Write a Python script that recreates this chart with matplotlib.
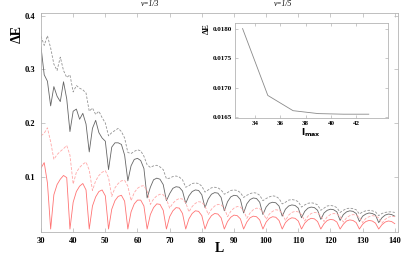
import matplotlib
matplotlib.use("Agg")
import matplotlib.pyplot as plt
import numpy as np

L = list(range(30, 141))

# black solid
dE_black_solid = [
    0.342, 0.290, 0.278, 0.232, 0.268, 0.250, 0.240, 0.277, 0.245, 0.184,
    0.222, 0.226, 0.207, 0.218, 0.198, 0.146, 0.190, 0.205, 0.182, 0.172,
    0.166, 0.113, 0.155, 0.163, 0.163, 0.160, 0.140, 0.092, 0.120, 0.132,
    0.134, 0.130, 0.115, 0.060, 0.080, 0.094, 0.097, 0.095, 0.085, 0.055,
    0.068, 0.078, 0.081, 0.080, 0.073, 0.050, 0.064, 0.072, 0.075, 0.074,
    0.066, 0.042, 0.058, 0.067, 0.070, 0.069, 0.061, 0.036, 0.053, 0.062,
    0.065, 0.064, 0.057, 0.032, 0.049, 0.057, 0.060, 0.059, 0.052, 0.029,
    0.043, 0.050, 0.052, 0.051, 0.045, 0.026, 0.039, 0.045, 0.047, 0.046,
    0.041, 0.023, 0.035, 0.041, 0.043, 0.042, 0.037, 0.020, 0.032, 0.037,
    0.039, 0.038, 0.034, 0.018, 0.029, 0.034, 0.036, 0.035, 0.031, 0.016,
    0.026, 0.030, 0.032, 0.031, 0.028, 0.014, 0.023, 0.028, 0.030, 0.029,
    0.026]

# black dashed
dE_black_dashed = [
    0.362, 0.345, 0.363, 0.340, 0.310, 0.298, 0.323, 0.298, 0.285, 0.290,
    0.258, 0.270, 0.265, 0.262, 0.256, 0.222, 0.228, 0.216, 0.222, 0.210,
    0.200, 0.176, 0.182, 0.186, 0.190, 0.184, 0.172, 0.145, 0.143, 0.147,
    0.150, 0.148, 0.138, 0.122, 0.117, 0.120, 0.121, 0.118, 0.113, 0.096,
    0.097, 0.100, 0.101, 0.099, 0.094, 0.080, 0.083, 0.087, 0.088, 0.087,
    0.082, 0.071, 0.075, 0.079, 0.080, 0.079, 0.075, 0.067, 0.070, 0.074,
    0.075, 0.074, 0.070, 0.061, 0.065, 0.068, 0.070, 0.069, 0.065, 0.055,
    0.059, 0.062, 0.064, 0.063, 0.059, 0.049, 0.052, 0.056, 0.057, 0.056,
    0.053, 0.043, 0.047, 0.050, 0.051, 0.050, 0.047, 0.037, 0.041, 0.045,
    0.046, 0.045, 0.042, 0.033, 0.037, 0.040, 0.041, 0.040, 0.038, 0.030,
    0.034, 0.036, 0.037, 0.036, 0.034, 0.027, 0.031, 0.033, 0.034, 0.034,
    0.033]

# red solid
dE_red_solid = [
    0.116, 0.126, 0.088, 0.002, 0.066, 0.085, 0.095, 0.102, 0.098, 0.002,
    0.052, 0.072, 0.082, 0.087, 0.075, 0.002, 0.045, 0.062, 0.072, 0.075,
    0.064, 0.002, 0.039, 0.055, 0.063, 0.065, 0.054, 0.002, 0.034, 0.049,
    0.056, 0.056, 0.045, 0.002, 0.029, 0.042, 0.049, 0.048, 0.037, 0.002,
    0.025, 0.036, 0.042, 0.041, 0.031, 0.002, 0.021, 0.031, 0.036, 0.035,
    0.027, 0.002, 0.018, 0.027, 0.031, 0.030, 0.023, 0.002, 0.016, 0.024,
    0.028, 0.027, 0.021, 0.002, 0.015, 0.023, 0.026, 0.025, 0.019, 0.002,
    0.015, 0.022, 0.025, 0.024, 0.018, 0.002, 0.014, 0.020, 0.023, 0.022,
    0.017, 0.002, 0.013, 0.019, 0.022, 0.021, 0.016, 0.002, 0.012, 0.018,
    0.020, 0.019, 0.015, 0.002, 0.011, 0.017, 0.019, 0.018, 0.014, 0.002,
    0.011, 0.016, 0.018, 0.017, 0.013, 0.002, 0.010, 0.015, 0.017, 0.016,
    0.012]

# red dashed
dE_red_dashed = [
    0.176, 0.181, 0.191, 0.165, 0.132, 0.141, 0.147, 0.152, 0.158, 0.140,
    0.086, 0.108, 0.117, 0.123, 0.127, 0.112, 0.074, 0.092, 0.102, 0.108,
    0.111, 0.098, 0.063, 0.079, 0.087, 0.092, 0.093, 0.082, 0.055, 0.070,
    0.078, 0.082, 0.083, 0.073, 0.048, 0.058, 0.064, 0.067, 0.066, 0.058,
    0.041, 0.050, 0.056, 0.059, 0.058, 0.051, 0.034, 0.044, 0.050, 0.053,
    0.052, 0.045, 0.029, 0.039, 0.045, 0.048, 0.047, 0.041, 0.025, 0.035,
    0.041, 0.044, 0.043, 0.037, 0.022, 0.032, 0.038, 0.041, 0.040, 0.034,
    0.020, 0.030, 0.035, 0.038, 0.037, 0.032, 0.018, 0.028, 0.033, 0.035,
    0.034, 0.029, 0.017, 0.026, 0.031, 0.033, 0.032, 0.027, 0.016, 0.025,
    0.029, 0.031, 0.030, 0.026, 0.015, 0.023, 0.027, 0.029, 0.028, 0.024,
    0.014, 0.022, 0.025, 0.027, 0.026, 0.023, 0.013, 0.020, 0.024, 0.026,
    0.025]

# inset
lmax = [33, 35, 37, 39, 41, 43]
dE_inset = [0.01801, 0.01687, 0.01661, 0.01656, 0.01655, 0.01655]

main_xticks = [30, 40, 50, 60, 70, 80, 90, 100, 110, 120, 130, 140]
main_yticks = [0.1, 0.2, 0.3, 0.4]
inset_xticks = [34, 36, 38, 40, 42]
inset_yticks = [0.0165, 0.0170, 0.0175, 0.0180]

SERIF = ["Liberation Serif", "DejaVu Serif"]
plt.rcParams["font.family"] = SERIF

W, H = 415, 257
fig = plt.figure(figsize=(W / 100, H / 100), dpi=100)

def frac(x0, y0, x1, y1):
    return [x0 / W, 1 - y1 / H, (x1 - x0) / W, (y1 - y0) / H]

frame_col = "#b4b4b4"

ax = fig.add_axes(frac(41, 12.7, 398, 231.7))
ax.plot(L, dE_black_dashed, color="#939393", lw=0.6, ls=(0, (3, 1.8)))
ax.plot(L, dE_black_solid, color="#666666", lw=0.6)
ax.plot(L, dE_red_dashed, color="#ffa8a8", lw=0.6, ls=(0, (3.5, 1.8)))
ax.plot(L, dE_red_solid, color="#ff7474", lw=0.6)
ax.set_xlim(30, 141)
ax.set_ylim(-0.003, 0.406)
ax.set_xticks(main_xticks)
ax.set_xticklabels([str(v) for v in main_xticks])
ax.set_yticks(main_yticks)
ax.set_yticklabels(["%.1f" % v for v in main_yticks])
ax.tick_params(direction="in", length=3, width=0.5, color=frame_col,
               top=True, right=True, labelsize=6, pad=4)
for lab in ax.get_xticklabels() + ax.get_yticklabels():
    lab.set_fontweight("bold")
for s in ax.spines.values():
    s.set_color(frame_col)
    s.set_linewidth(0.6)

fig.text(17 / W, 1 - 34 / H, "ΔE", rotation=90, ha="center", va="center",
         fontsize=10, fontweight="bold")
fig.text(219 / W, 1 - 249 / H, "L", ha="center", va="center",
         fontsize=10, fontweight="bold")
fig.text(150 / W, 1 - 4.5 / H, "ν=1/3", ha="center", va="center", fontsize=5.5,
         style="italic")
fig.text(283 / W, 1 - 4.5 / H, "ν=1/5", ha="center", va="center", fontsize=5.5,
         style="italic")

ins = fig.add_axes(frac(235, 23.3, 387.7, 118.3))
ins.set_facecolor("white")
ins.plot(lmax, dE_inset, color="#8a8a8a", lw=0.6)
ins.set_xlim(32.4, 44.5)
ins.set_ylim(0.01648, 0.01810)
ins.set_xticks(inset_xticks)
ins.set_xticklabels([str(v) for v in inset_xticks])
ins.set_yticks(inset_yticks)
ins.set_yticklabels(["%.4f" % v for v in inset_yticks])
ins.tick_params(direction="in", length=2.5, width=0.5, color=frame_col,
                top=True, right=True, labelsize=5, pad=2)
for lab in ins.get_xticklabels() + ins.get_yticklabels():
    lab.set_fontweight("bold")
for s in ins.spines.values():
    s.set_color(frame_col)
    s.set_linewidth(0.6)
fig.text(206.5 / W, 1 - 28.5 / H, "ΔE", rotation=90, ha="center", va="center",
         fontsize=6, fontweight="bold")
fig.text(311 / W, 1 - 133 / H, r"$\mathbf{l}_{\mathbf{max}}$", ha="center",
         va="center", fontsize=6.5)

fig.savefig("out.png", dpi=100)
